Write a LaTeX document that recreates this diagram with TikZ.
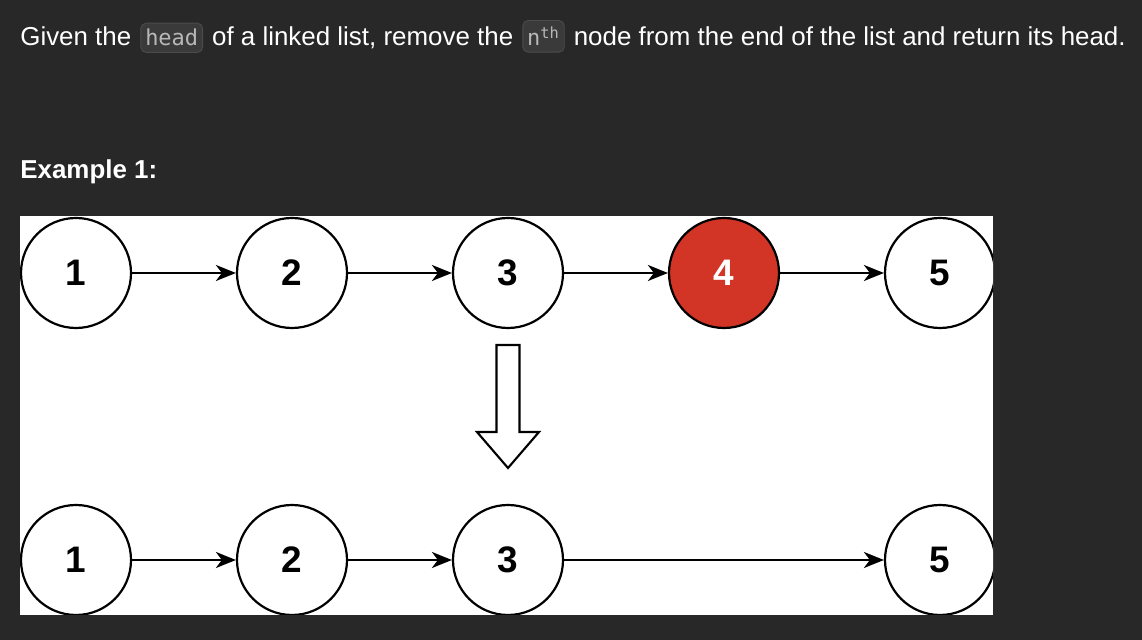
\documentclass[tikz,border=0pt]{standalone}
\usepackage{fontspec}
\setmainfont{Liberation Sans}
\setmonofont{DejaVu Sans Mono}
\usetikzlibrary{positioning,arrows.meta}
\definecolor{pagebg}{HTML}{282828}
\definecolor{codebg}{HTML}{3A3A3A}
\definecolor{codeline}{HTML}{4C4C4C}
\definecolor{codetxt}{HTML}{B8B8B8}
\definecolor{removed}{HTML}{D23425}
\tikzset{
  txt/.style={text=white, inner sep=0pt, font=\fontsize{14.75}{17}\selectfont},
  code/.style={fill=codebg, draw=codeline, rounded corners=3pt, text=codetxt,
    inner xsep=2.5pt, inner ysep=3.5pt, line width=0.5pt,
    font=\ttfamily\fontsize{12.5}{15}\selectfont},
  item/.style={circle, draw, line width=1.25pt, minimum size=2.2cm, inner sep=0pt,
    fill=white, font=\fontsize{21}{23}\selectfont\bfseries},
  link/.style={line width=1.3pt, -{Stealth[length=0.4cm, width=0.32cm, inset=0.12cm]}}
}
\begin{document}
\begin{tikzpicture}
\fill[pagebg] (0,0) rectangle (22.84,12.8);
\useasboundingbox (0,0) rectangle (22.84,12.8);
% problem text
\node[txt, anchor=base west] (g1) at (0.4,11.88) {Given the};
\node[code, right=5pt of g1.base east, anchor=base west] (c1) {head};
\node[txt, right=5pt of c1.base east, anchor=base west] (g2) {of a linked list, remove the};
\node[code, right=5pt of g2.base east, anchor=base west] (c2) {n\textsuperscript{th}};
\node[txt, right=5pt of c2.base east, anchor=base west] (g3) {node from the end of the list and return its head.};
\node[txt, anchor=base west, font=\fontsize{14.75}{17}\selectfont\bfseries] (ex) at (0.4,9.22) {Example 1:};
% white panel
\fill[white] (0.4,0.5) rectangle (19.86,8.48);
\begin{scope}
\clip (0.4,0.5) rectangle (19.86,8.48);
% list before
\node[item] (t1) at (1.52,7.34) {1};
\node[item] (t2) at (5.84,7.34) {2};
\node[item] (t3) at (10.16,7.34) {3};
\node[item, fill=removed, text=white] (t4) at (14.48,7.34) {4};
\node[item] (t5) at (18.8,7.34) {5};
\draw[link] (t1) -- (t2);
\draw[link] (t2) -- (t3);
\draw[link] (t3) -- (t4);
\draw[link] (t4) -- (t5);
% big arrow
\draw[line width=1.2pt, fill=white] (9.93,5.9) -- (10.39,5.9) -- (10.39,4.16) -- (10.78,4.16)
  -- (10.16,3.44) -- (9.54,4.16) -- (9.93,4.16) -- cycle;
% list after
\node[item] (b1) at (1.52,1.6) {1};
\node[item] (b2) at (5.84,1.6) {2};
\node[item] (b3) at (10.16,1.6) {3};
\node[item] (b5) at (18.8,1.6) {5};
\draw[link] (b1) -- (b2);
\draw[link] (b2) -- (b3);
\draw[link] (b3) -- (b5);
\end{scope}
\end{tikzpicture}
\end{document}
